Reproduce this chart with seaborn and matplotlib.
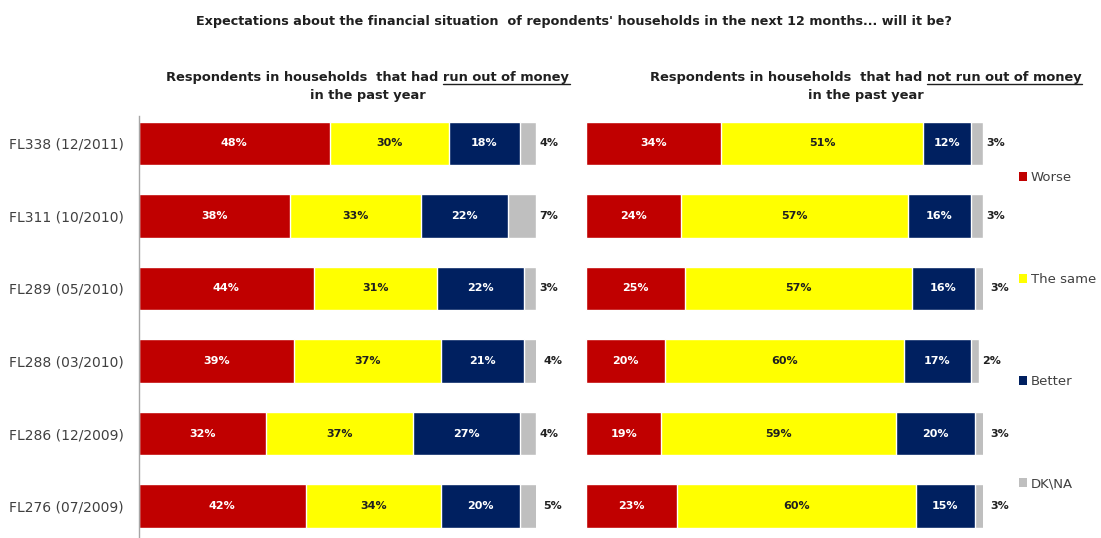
import numpy as np
import pandas as pd
import matplotlib
matplotlib.use('Agg')
import matplotlib.pyplot as plt
import seaborn as sns
from matplotlib.patches import Patch
from matplotlib.lines import Line2D

sns.set_style('white')
plt.rcParams['font.family'] = ['DejaVu Sans']

surveys = ['FL338 (12/2011)', 'FL311 (10/2010)', 'FL289 (05/2010)',
           'FL288 (03/2010)', 'FL286 (12/2009)', 'FL276 (07/2009)']
answers = ['Worse', 'The same', 'Better', 'DK\\NA']

# run out of money in the past year
ran_out_worse = [48, 38, 44, 39, 32, 42]
ran_out_same = [30, 33, 31, 37, 37, 34]
ran_out_better = [18, 22, 22, 21, 27, 20]
ran_out_dkna = [4, 7, 3, 4, 4, 5]

# did not run out of money
not_out_worse = [34, 24, 25, 20, 19, 23]
not_out_same = [51, 57, 57, 60, 59, 60]
not_out_better = [12, 16, 16, 17, 20, 15]
not_out_dkna = [3, 3, 3, 2, 3, 3]

colors = ['#C00000', '#FFFF00', '#002060', '#BFBFBF']
text_colors = ['white', '#202020', 'white', '#202020']

head_font = ['DejaVu Sans']


def draw_panel(ax, series, show_spine):
    df = pd.DataFrame(dict(zip(answers, series)), index=surveys)
    cum = df.cumsum(axis=1)
    # draw cumulative totals from the longest down so they stack visually
    for i in range(len(answers) - 1, -1, -1):
        d = pd.DataFrame({'survey': surveys, 'value': cum[answers[i]].values})
        sns.barplot(data=d, x='value', y='survey', orient='h', color=colors[i],
                    saturation=1, width=0.6, ax=ax, order=surveys)
    for r, s in enumerate(surveys):
        start = 0
        for i, a in enumerate(answers):
            v = df.loc[s, a]
            if i < 3:
                ax.text(start + v / 2, r, f'{v}%', ha='center', va='center',
                        fontsize=8, fontweight='bold', color=text_colors[i])
            else:
                ax.text(start + v + 0.8, r, f'{v}%', ha='left', va='center',
                        fontsize=8, fontweight='bold', color=text_colors[i])
            start += v
    ax.set_xlim(0, 100)
    ax.set_ylim(5.437, -0.5)
    ax.set_xlabel('')
    ax.set_ylabel('')
    ax.set_xticks([])
    for sp in ['top', 'right', 'bottom']:
        ax.spines[sp].set_visible(False)
    if show_spine:
        ax.spines['left'].set_color('#A6A6A6')
        ax.spines['left'].set_linewidth(1)
        ax.spines['left'].set_bounds(5.437, -0.38)
        ax.set_yticks(range(len(surveys)))
        ax.set_yticklabels(surveys, fontsize=10, color='#404040')
        ax.tick_params(axis='y', length=0, pad=11)
        ax.set_yticks(np.arange(0.5, len(surveys) - 0.5, 1), minor=True)
        ax.tick_params(axis='y', which='minor', length=4, color='#A6A6A6',
                       direction='out')
    else:
        ax.spines['left'].set_visible(False)
        ax.set_yticks([])


W, H = 1101, 538
fig = plt.figure(figsize=(W / 100, H / 100), dpi=100)
ax1 = fig.add_axes([139 / W, 0, 397 / W, 431 / H])
ax2 = fig.add_axes([586 / W, 0, 397 / W, 431 / H])

draw_panel(ax1, [ran_out_worse, ran_out_same, ran_out_better, ran_out_dkna], True)
draw_panel(ax2, [not_out_worse, not_out_same, not_out_better, not_out_dkna], False)

fig.text(574 / W, 1 - 22 / H,
         "Expectations about the financial situation  of repondents' households in the next 12 months... will it be?",
         ha='center', va='center', fontsize=9.2, fontweight='bold',
         family=head_font, color='#202020')

renderer = fig.canvas.get_renderer()


def subtitle(cx, line1, underlined, line2):
    t1 = fig.text(cx / W, 1 - 78 / H, line1, ha='center', va='center',
                  fontsize=9.4, fontweight='bold', family=head_font, color='#202020')
    fig.text(cx / W, 1 - 95 / H, line2, ha='center', va='center',
             fontsize=9.4, fontweight='bold', family=head_font, color='#202020')
    tmp = fig.text(0, 0, underlined, fontsize=9.4, fontweight='bold', family=head_font)
    bb_full = t1.get_window_extent(renderer)
    bb_u = tmp.get_window_extent(renderer)
    tmp.remove()
    x1 = bb_full.x1
    x0 = x1 - bb_u.width
    y = bb_full.y0 + 1
    fig.add_artist(Line2D([x0 / W, x1 / W], [y / H, y / H], transform=fig.transFigure,
                          color='#202020', linewidth=1))


subtitle(368, 'Respondents in households  that had run out of money', 'run out of money',
         'in the past year')
subtitle(866, 'Respondents in households  that had not run out of money', 'not run out of money',
         'in the past year')

handles = [Patch(facecolor=c, edgecolor='none') for c in colors]
fig.legend(handles, answers, loc='upper left', bbox_to_anchor=(1019 / W, 1 - 171 / H),
           frameon=False, fontsize=9.5, labelcolor='#404040', handlelength=0.6,
           handleheight=0.6, handletextpad=0.3, labelspacing=6.75, borderpad=0,
           borderaxespad=0)

fig.savefig('out.png', dpi=100)
